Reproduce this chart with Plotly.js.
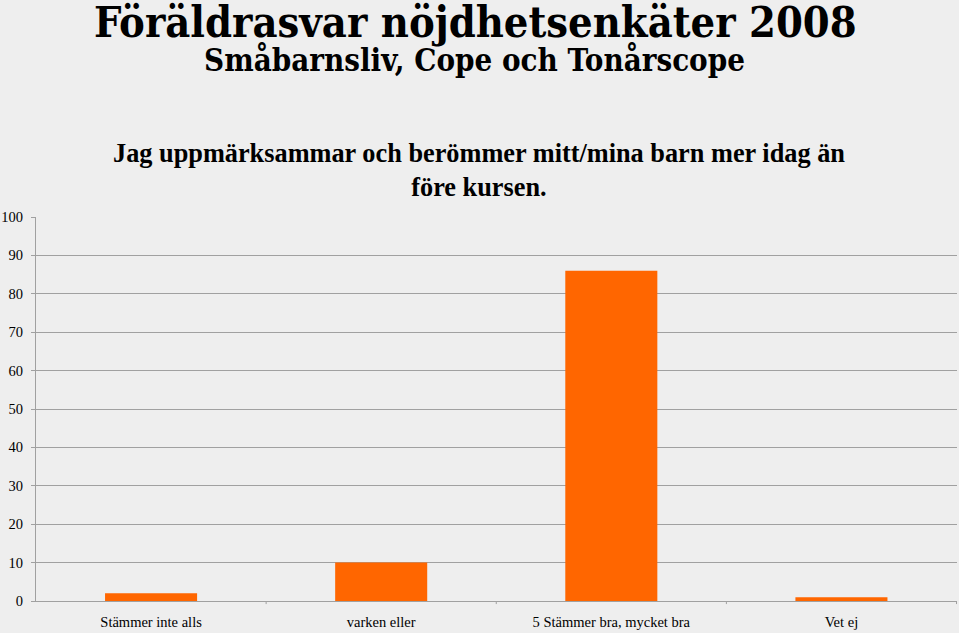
<!DOCTYPE html>
<html>
<head>
<meta charset="utf-8">
<script src="https://cdn.plot.ly/plotly-3.0.1.min.js"></script>
<style>html,body{margin:0;padding:0;background:#eeeeee;}#chart{width:959px;height:633px;}</style>
</head>
<body>
<div id="chart"></div>
<script>
const categories = ["Stämmer inte alls", "varken eller", "5 Stämmer bra, mycket bra", "Vet ej"];
const values = [2, 10, 86, 1];
const yTicks = [0, 10, 20, 30, 40, 50, 60, 70, 80, 90, 100];

const trace = {
  type: "bar",
  x: categories,
  y: values,
  marker: {color: "#ff6600"},
  hoverinfo: "none"
};

const layout = {
  width: 959,
  height: 633,
  paper_bgcolor: "#eeeeee",
  plot_bgcolor: "#eeeeee",
  margin: {l: 36, r: 2, t: 217, b: 32},
  bargap: 0.6,
  showlegend: false,
  xaxis: {
    type: "category",
    showline: true,
    linecolor: "#a0a0a0",
    linewidth: 1,
    ticks: "",
    tickfont: {family: "Liberation Serif", size: 14.5, color: "#000"},
    showgrid: false,
    ticklabelstandoff: 8
  },
  yaxis: {
    range: [0, 100],
    tickvals: yTicks,
    ticks: "outside",
    ticklen: 4,
    tickcolor: "#a0a0a0",
    showline: true,
    linecolor: "#a0a0a0",
    gridcolor: "#a0a0a0",
    gridwidth: 1,
    zeroline: false,
    tickfont: {family: "Liberation Serif", size: 14.5, color: "#000"},
    ticklabelstandoff: 5
  },
  shapes: [0.5, 1.5, 2.5, 3.5].map(v => ({
    type: "line", xref: "x", yref: "paper", x0: v, x1: v, y0: 0, y1: -0.008,
    line: {color: "#a0a0a0", width: 1}
  })),
  annotations: [
    {text: "<b>Föräldrasvar nöjdhetsenkäter 2008</b>", xref: "paper", yref: "paper", x: 0.4772, y: 1, xanchor: "center", yanchor: "middle",
     yshift: 195, showarrow: false, font: {family: "DejaVu Serif Condensed", size: 43, color: "#000"}},
    {text: "<b>Småbarnsliv, Cope och Tonårscope</b>", xref: "paper", yref: "paper", x: 0.4761, y: 1, xanchor: "center", yanchor: "middle",
     yshift: 157, showarrow: false, font: {family: "DejaVu Serif Condensed", size: 31, color: "#000"}},
    {text: "<b>Jag uppmärksammar och berömmer mitt/mina barn mer idag än<br>före kursen.</b>", xref: "paper", yref: "paper", x: 0.4810, y: 1, xanchor: "center", yanchor: "middle",
     yshift: 47, showarrow: false, align: "center", font: {family: "Liberation Serif", size: 26.3, color: "#000"}}
  ]
};

Plotly.newPlot("chart", [trace], layout, {displayModeBar: false, staticPlot: true});
</script>
</body>
</html>
